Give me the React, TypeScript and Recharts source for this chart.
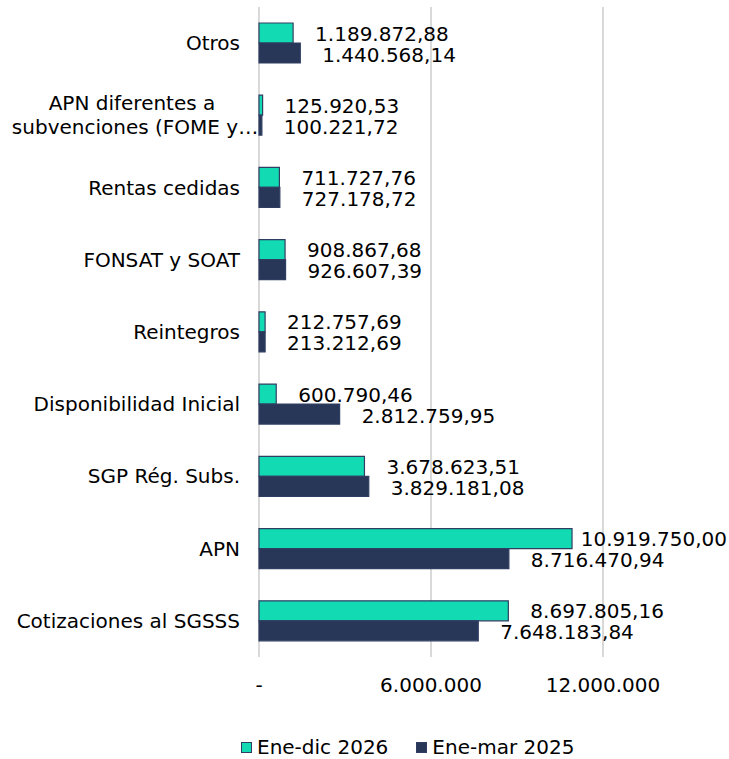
import {
	Bar,
	BarChart,
	CartesianGrid,
	LabelList,
	Legend,
	XAxis,
	YAxis,
} from "recharts";

const categories = [
	"Otros",
	"APN diferentes a\nsubvenciones (FOME y…",
	"Rentas cedidas",
	"FONSAT y SOAT",
	"Reintegros",
	"Disponibilidad Inicial",
	"SGP Rég. Subs.",
	"APN",
	"Cotizaciones al SGSSS",
];

const eneDic2026 = [
	1189872.88, 125920.53, 711727.76, 908867.68, 212757.69, 600790.46,
	3678623.51, 10919750.0, 8697805.16,
];

const eneMar2025 = [
	1440568.14, 100221.72, 727178.72, 926607.39, 213212.69, 2812759.95,
	3829181.08, 8716470.94, 7648183.84,
];

const xTicks = [0, 6000000, 12000000];
const xTickLabels = ["-", "6.000.000", "12.000.000"];

const seriesNames = ["Ene-dic 2026", "Ene-mar 2025"];

const data = categories.map((name, i) => ({
	name,
	actual: eneDic2026[i],
	previo: eneMar2025[i],
}));

const FONT = "'DejaVu Sans', Verdana, sans-serif";
const FS = 20;
const TEAL = "#12DBB4";
const NAVY = "#283757";
const EDGE = "#2F3E62";

function fmt(v: number) {
	const [int, dec] = v.toFixed(2).split(".");
	return int.replace(/\B(?=(\d{3})+(?!\d))/g, ".") + "," + dec;
}

function CategoryTick({ x, y, payload }: any) {
	const lines = String(payload.value).split("\n");
	if (lines.length === 1) {
		return (
			<text
				x={x}
				y={y}
				textAnchor="end"
				dominantBaseline="central"
				fontFamily={FONT}
				fontSize={FS}
				fill="#000"
			>
				{lines[0]}
			</text>
		);
	}
	// the long name is wrapped on two centred lines, like the original
	return (
		<text
			x={x - 108}
			y={y}
			textAnchor="middle"
			fontFamily={FONT}
			fontSize={FS}
			fill="#000"
		>
			{lines.map((l, i) => (
				<tspan
					key={i}
					x={x - 108 + i * 3}
					y={y - 12 + i * 24}
					dominantBaseline="central"
				>
					{l}
				</tspan>
			))}
		</text>
	);
}

function ValueTick({ x, y, index }: any) {
	return (
		<text
			x={x}
			y={y + 28}
			textAnchor="middle"
			dominantBaseline="central"
			fontFamily={FONT}
			fontSize={FS}
			fill="#000"
		>
			{xTickLabels[index]}
		</text>
	);
}

function makeLabel(shift: number) {
	return function ValueLabel({ x, y, width, height, value }: any) {
		const text = fmt(Number(value));
		const w = [...text].reduce(
			(s, c) => s + (c === "." || c === "," ? 0.318 : 0.636) * FS,
			0,
		);
		let tx = Number(x) + Number(width) + 22;
		if (tx + w > 727) tx = 727 - w;
		return (
			<text
				x={tx}
				y={Number(y) + Number(height) / 2 + shift}
				dominantBaseline="central"
				fontFamily={FONT}
				fontSize={FS}
				fill="#000"
			>
				{text}
			</text>
		);
	};
}

const TopLabel = makeLabel(0.5);
const BottomLabel = makeLabel(1.5);

function LegendContent() {
	const items = [
		{ name: seriesNames[0], color: TEAL },
		{ name: seriesNames[1], color: NAVY },
	];
	return (
		<div
			style={{
				display: "flex",
				alignItems: "center",
				paddingLeft: 241,
				height: 24,
				fontFamily: FONT,
				fontSize: FS,
				color: "#000",
			}}
		>
			{items.map((it, i) => (
				<div
					key={it.name}
					style={{
						display: "flex",
						alignItems: "center",
						marginRight: i === 0 ? 28 : 0,
					}}
				>
					<span
						style={{
							display: "inline-block",
							width: 9,
							height: 9,
							background: it.color,
							border: `1px solid ${EDGE}`,
							marginRight: 5,
						}}
					/>
					<span>{it.name}</span>
				</div>
			))}
		</div>
	);
}

export default function App() {
	return (
		<div style={{ position: "absolute", left: 0, top: 0, background: "#fff" }}>
			<BarChart
				width={729}
				height={759}
				data={data}
				layout="vertical"
				margin={{ top: 7, right: 126, left: 0, bottom: 38 }}
				barGap={0}
				barSize={20}
			>
				<CartesianGrid horizontal={false} stroke="#D9D9D9" strokeWidth={2} />
				<XAxis
					type="number"
					domain={[0, 12000000]}
					ticks={xTicks}
					axisLine={false}
					tickLine={false}
					tickSize={0}
					tickMargin={0}
					height={40}
					tick={<ValueTick />}
					interval={0}
				/>
				<YAxis
					type="category"
					dataKey="name"
					width={259}
					axisLine={false}
					tickLine={false}
					tickSize={0}
					tickMargin={19}
					tick={<CategoryTick />}
					interval={0}
				/>
				<Legend
					verticalAlign="bottom"
					content={<LegendContent />}
					wrapperStyle={{ left: 0, bottom: 0, width: 729, height: 24 }}
				/>
				<Bar
					dataKey="actual"
					name={seriesNames[0]}
					fill={TEAL}
					stroke={EDGE}
					strokeWidth={1.2}
					isAnimationActive={false}
				>
					<LabelList dataKey="actual" content={<TopLabel />} />
				</Bar>
				<Bar
					dataKey="previo"
					name={seriesNames[1]}
					fill={NAVY}
					stroke={EDGE}
					strokeWidth={1.2}
					isAnimationActive={false}
				>
					<LabelList dataKey="previo" content={<BottomLabel />} />
				</Bar>
			</BarChart>
		</div>
	);
}
